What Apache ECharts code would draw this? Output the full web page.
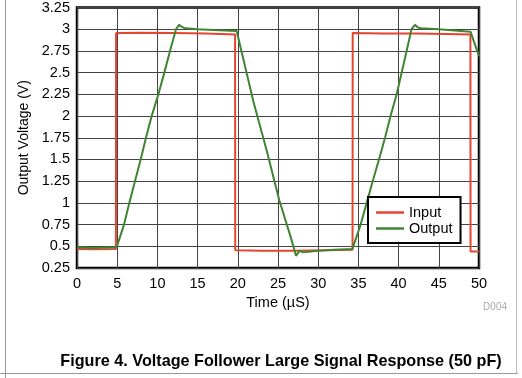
<!DOCTYPE html>
<html>
<head>
<meta charset="utf-8">
<script src="https://cdn.jsdelivr.net/npm/echarts@6/dist/echarts.min.js"></script>
<style>
  html, body { margin: 0; padding: 0; background: #fff; }
  #chart { width: 522px; height: 378px; }
</style>
</head>
<body>
<div id="chart"></div>
<script>
// time in microseconds, voltage in volts
const inputTime = [0, 2, 4.84, 4.86, 8, 12, 16, 19.66, 19.68, 23, 27, 31, 34.27, 34.29, 38, 42, 46, 48.93, 48.95, 50];
const inputVolt = [0.47, 0.465, 0.47, 2.955, 2.96, 2.955, 2.95, 2.94, 0.455, 0.45, 0.45, 0.455, 0.46, 2.955, 2.95, 2.95, 2.945, 2.94, 0.44, 0.44];

const outputTime = [0, 2, 4.93, 5.85, 6.51, 7.21, 7.92, 8.58, 9.29, 10.12, 10.86, 11.57, 12.31, 12.69, 13.0, 13.43, 15, 17, 19.86,
  21.93, 23.6, 25.16, 26.6, 27.24, 27.45, 27.7, 28.1, 30, 32, 34.25,
  35.28, 36.03, 36.78, 37.56, 38.31, 39.0, 39.76, 40.38, 41.0, 41.6, 42.04, 42.4, 42.8, 45, 48.95, 50];
const outputVolt = [0.49, 0.48, 0.49, 0.75, 1.0, 1.25, 1.5, 1.75, 2.0, 2.25, 2.5, 2.75, 3.0, 3.05, 3.03, 3.01, 3.0, 2.99, 2.98,
  2.17, 1.6, 1.03, 0.6, 0.39, 0.4, 0.45, 0.43, 0.45, 0.46, 0.47,
  0.75, 1.0, 1.25, 1.5, 1.75, 2.0, 2.25, 2.5, 2.75, 3.0, 3.05, 3.02, 3.01, 3.0, 2.97, 2.69];

const xTicks = { min: 0, max: 50, step: 5 };
const yTicks = { min: 0.25, max: 3.25, step: 0.25 };

const font = 'Liberation Sans, Arial, sans-serif';
const chart = echarts.init(document.getElementById('chart'));

const pair = (xs, ys) => xs.map((x, i) => [x, ys[i]]);

chart.setOption({
  animation: false,
  backgroundColor: '#fff',
  textStyle: { fontFamily: font, color: '#000' },
  grid: {
    left: 77, top: 6, right: 43, bottom: 110,
    show: true, borderColor: '#000', borderWidth: 2.5, backgroundColor: 'transparent'
  },
  xAxis: {
    type: 'value',
    min: xTicks.min, max: xTicks.max, interval: xTicks.step,
    name: 'Time (\u00b5S)',
    nameLocation: 'middle',
    nameGap: 24,
    nameTextStyle: { fontSize: 14.5, color: '#000', fontFamily: font },
    axisLine: { show: false },
    axisTick: { show: false },
    axisLabel: { fontSize: 14.5, color: '#000', margin: 8, fontFamily: font },
    splitLine: { lineStyle: { color: '#444', width: 1 } }
  },
  yAxis: {
    type: 'value',
    min: yTicks.min, max: yTicks.max, interval: yTicks.step,
    name: 'Output Voltage (V)',
    nameLocation: 'middle',
    nameGap: 43,
    nameTextStyle: { fontSize: 14, color: '#000', fontFamily: font },
    axisLine: { show: false },
    axisTick: { show: false },
    axisLabel: { fontSize: 14.5, color: '#000', margin: 7, fontFamily: font },
    splitLine: { lineStyle: { color: '#444', width: 1 } }
  },
  legend: {
    orient: 'vertical',
    left: 368, top: 197,
    padding: [8, 8, 7, 8],
    backgroundColor: '#fff',
    borderColor: '#000',
    borderWidth: 2,
    itemGap: 1,
    itemWidth: 28,
    itemHeight: 2.5,
    icon: 'rect',
    textStyle: { fontSize: 14.5, color: '#000', fontFamily: font, lineHeight: 14 },
    data: ['Input', 'Output']
  },
  series: [
    {
      name: 'Input',
      type: 'line',
      data: pair(inputTime, inputVolt),
      symbol: 'none',
      color: '#e5452f',
      lineStyle: { width: 2, color: '#e5452f' }
    },
    {
      name: 'Output',
      type: 'line',
      data: pair(outputTime, outputVolt),
      symbol: 'none',
      color: '#3d8530',
      lineStyle: { width: 2, color: '#3d8530' }
    }
  ],
  graphic: [
    { type: 'line', shape: { x1: 5.5, y1: 0, x2: 5.5, y2: 378 }, style: { stroke: '#999', lineWidth: 1 } },
    { type: 'line', shape: { x1: 0, y1: 373.5, x2: 518, y2: 373.5 }, style: { stroke: '#999', lineWidth: 1 } },
    { type: 'line', shape: { x1: 516.5, y1: 0, x2: 516.5, y2: 373.5 }, style: { stroke: '#bbb', lineWidth: 1 } },
    {
      type: 'text', x: 507, y: 307,
      style: { text: 'D004', fill: '#aaa', font: '10px ' + font, textAlign: 'right', textVerticalAlign: 'middle' }
    },
    {
      type: 'text', x: 281, y: 362,
      style: { text: 'Figure 4. Voltage Follower Large Signal Response (50 pF)', fill: '#000',
        font: 'bold 16.2px ' + font, textAlign: 'center', textVerticalAlign: 'middle' }
    }
  ]
});
</script>
</body>
</html>
